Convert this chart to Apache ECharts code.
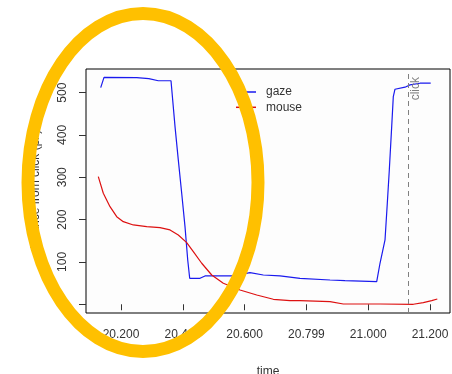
<!DOCTYPE html>
<html>
<head>
<meta charset="utf-8">
<script src="https://cdn.jsdelivr.net/npm/echarts@6/dist/echarts.min.js"></script>
<style>
html,body{margin:0;padding:0;background:#fff;}
#c{width:452px;height:374px;}
</style>
</head>
<body>
<div id="c"></div>
<script>
// ---- data ----
var gazeTime = [20.1343, 20.145, 20.2508, 20.29, 20.3207, 20.3618, 20.3748, 20.3854, 20.3964, 20.4071, 20.4159, 20.4223, 20.4557, 20.4718, 20.5634, 20.6175, 20.6605, 20.7146, 20.7793, 20.8764, 20.9249, 21.0275, 21.0382, 21.0544, 21.0618, 21.0683, 21.076, 21.0812, 21.0867, 21.1191, 21.1353, 21.1676, 21.2023];
var gazeDist = [511.8, 536, 535.5, 533, 528, 528, 419.6, 341, 262.3, 183.4, 104.7, 61.4, 61.4, 66.9, 66.9, 74.7, 69.2, 67, 61.4, 57.4, 55.8, 53.4, 96.9, 151.9, 238.7, 317.3, 419.6, 490.5, 508, 512.8, 518.2, 522.2, 522.2];
var mouseTime = [20.1265, 20.1427, 20.1644, 20.1861, 20.2074, 20.2398, 20.2832, 20.3262, 20.3586, 20.3854, 20.4126, 20.434, 20.4612, 20.4935, 20.5311, 20.5851, 20.6392, 20.6929, 20.7469, 20.7793, 20.8764, 20.9194, 21.0382, 21.146, 21.1783, 21.2055, 21.2236];
var mouseDist = [301.5, 262.3, 230.6, 207, 195.2, 187.4, 183.4, 181, 175.6, 163.8, 145.6, 124.3, 96.9, 69.2, 49.6, 33.8, 22, 11.8, 8.5, 8.5, 6.1, 0.7, 0.7, 0, 3.8, 8.5, 12.5];
var clickTime = 21.1278;
var xTickValues = [20.2, 20.4, 20.6, 20.8, 21.0, 21.2];
var xTickLabels = ['20.200', '20.400', '20.600', '20.799', '21.000', '21.200'];
var yTickValues = [0, 100, 200, 300, 400, 500];
var seriesNames = ['gaze', 'mouse'];

function pairs(xs, ys) { return xs.map(function (x, i) { return [x, ys[i]]; }); }

var chart = echarts.init(document.getElementById('c'), null, {renderer: 'canvas'});
var font = 'Liberation Sans, Arial, sans-serif';
chart.setOption({
  animation: false,
  backgroundColor: '#ffffff',
  textStyle: {fontFamily: font},
  grid: {left: 86, top: 69, right: 2, bottom: 61, show: true, borderColor: '#000', borderWidth: 1, backgroundColor: '#fdfdfd', containLabel: false, outerBoundsMode: 'none'},
  legend: {
    orient: 'vertical', left: 236, top: 86, padding: 0, icon: 'rect', itemWidth: 20, itemHeight: 1.5, itemGap: 3.3,
    textStyle: {fontSize: 12, color: '#333', fontFamily: font, padding: [0, 0, 0, 5]},
    data: seriesNames
  },
  xAxis: {
    type: 'value', min: 20.0867, max: 21.2647,
    name: 'time', nameLocation: 'middle', nameGap: 53,
    nameTextStyle: {fontSize: 12, color: '#333'},
    splitLine: {show: false},
    axisLine: {show: false},
    axisTick: {show: true, length: 6, lineStyle: {color: '#333'}, customValues: xTickValues},
    axisLabel: {
      fontSize: 12, color: '#333', margin: 16, customValues: xTickValues,
      formatter: function (v) { var i = xTickValues.findIndex(function (t) { return Math.abs(t - v) < 1e-6; }); return i >= 0 ? xTickLabels[i] : ''; }
    }
  },
  yAxis: {
    type: 'value', min: -20.6, max: 555.8,
    name: 'distance from click (px)', nameLocation: 'middle', nameGap: 44, nameRotate: 90,
    nameTextStyle: {fontSize: 12, color: '#333'},
    splitLine: {show: false},
    axisLine: {show: false},
    axisTick: {show: true, length: 7, lineStyle: {color: '#333'}, customValues: yTickValues},
    axisLabel: {fontSize: 12, color: '#333', margin: 17, rotate: 90, align: 'center', verticalAlign: 'bottom', customValues: yTickValues}
  },
  series: [
    {
      name: seriesNames[0], type: 'line', data: pairs(gazeTime, gazeDist),
      symbol: 'none', lineStyle: {color: '#1a1aee', width: 1.2}, itemStyle: {color: '#1a1aee'},
      markLine: {
        silent: true, symbol: ['none', 'none'],
        lineStyle: {color: '#808080', type: [5, 4], width: 1},
        label: {show: true, formatter: 'click', position: 'insideEndBottom', color: '#808080', fontSize: 12, distance: [8, 1]},
        data: [{xAxis: clickTime}]
      }
    },
    {
      name: seriesNames[1], type: 'line', data: pairs(mouseTime, mouseDist),
      symbol: 'none', lineStyle: {color: '#dd1111', width: 1.2}, itemStyle: {color: '#dd1111'}
    }
  ],
  graphic: [{
    type: 'ellipse', z: 100,
    shape: {cx: 143, cy: 182.5, rx: 115, ry: 169},
    style: {fill: 'none', stroke: '#FFC000', lineWidth: 13}
  }]
});
</script>
</body>
</html>
